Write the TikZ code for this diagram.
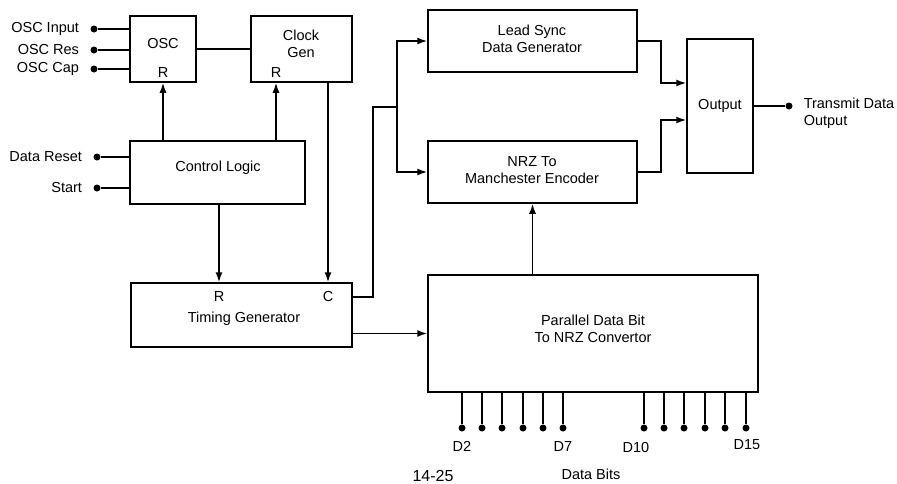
\documentclass[tikz,border=0pt]{standalone}
\usepackage{fontspec}
\setmainfont{Liberation Sans}
\usetikzlibrary{arrows.meta,positioning}

\begin{document}
\begin{tikzpicture}[>={Latex[length=10pt,width=7pt]},x=1pt,y=-1pt,line width=1.5pt,
  font=\fontsize{14.5}{17}\selectfont,
  blk/.style={draw,inner sep=0pt,align=center},
  txt/.style={inner sep=0pt,align=center},
  pindot/.style={circle,fill=black,inner sep=0pt,minimum size=7pt}]
  \useasboundingbox (0,0) rectangle (897,483);
  % Oscillator and clock
  \node[blk,minimum width=66pt,minimum height=66pt] (osc) at (163,49) {};
  \node[txt] (osct) at (163,44) {OSC};
  \node[txt] (oscr) at (163,73) {R};
  \node[blk,minimum width=101pt,minimum height=66pt] (clk) at (301.5,49) {};
  \node[txt] (clkt) at (301,44) {Clock\\Gen};
  \node[txt] (clkr) at (276,73) {R};
  % Control and timing
  \node[blk,minimum width=175pt,minimum height=63pt] (ctl) at (217.5,172.5) {};
  \node[txt] (ctlt) at (218,168) {Control Logic};
  \node[blk,minimum width=221pt,minimum height=64pt] (tim) at (241.5,315) {};
  \node[txt] (timr) at (219,297) {R};
  \node[txt] (timc) at (328,297) {C};
  \node[txt] (timt) at (244,319) {Timing Generator};
  % Encoder side
  \node[blk,minimum width=209pt,minimum height=62pt] (lead) at (532.5,41) {};
  \node[txt] (leadt) at (532,39) {Lead Sync\\Data Generator};
  \node[blk,minimum width=209pt,minimum height=62pt] (nrz) at (532.5,172) {};
  \node[txt] (nrzt) at (532,170.5) {NRZ To\\Manchester Encoder};
  \node[blk,minimum width=66pt,minimum height=134pt] (out) at (720,106) {Output};
  \node[blk,minimum width=330pt,minimum height=117pt] (par) at (593,333.5) {};
  \node[txt] (part) at (593,328.5) {Parallel Data Bit\\To NRZ Convertor};

  % Input pins
  \foreach \n/\y/\t in {oscin/29/OSC Input,oscres/50/OSC Res,osccap/69/OSC Cap}{
    \node[pindot] (\n) at (94,\y) {};
    \node[txt,left=10pt of \n] (\n-l) {\t};
    \draw (\n) -- (\n -| osc.west);
  }
  \foreach \n/\y/\t in {dreset/157/Data Reset,start/188/Start}{
    \node[pindot] (\n) at (97,\y) {};
    \node[txt,left=10pt of \n] (\n-l) {\t};
    \draw (\n) -- (\n -| ctl.west);
  }

  % Connections
  \draw (osc.east) -- (clk.west);
  \draw[->] (ctl.north -| oscr) -- (oscr |- osc.south);
  \draw[->] (ctl.north -| clkr) -- (clkr |- clk.south);
  \draw[->] (ctl.south -| timr) -- (timr |- tim.north);
  \draw[->] (clk.south -| timc) -- (timc |- tim.north);
  \coordinate (jog) at (373,107);
  \coordinate (fork) at (397,107);
  \draw (tim.east |- timc) -| (jog) -- (fork);
  \draw[->] (fork) |- (lead.west);
  \draw[->] (fork) |- (nrz.west);
  \draw[->] (tim.east |- par.west) -- (par.west);
  \draw[->] (par.north -| nrz.south) -- (nrz.south);
  \coordinate (lbend) at (661,83);
  \coordinate (nbend) at (661,120);
  \draw[->] (lead.east) -| (lbend) -- (lbend -| out.west);
  \draw[->] (nrz.east) -| (nbend) -- (nbend -| out.west);

  % Output pin
  \node[pindot] (txd) at (789,106) {};
  \draw (out.east) -- (txd);
  \node[txt,align=left,anchor=west] (txdl) at (803,113.5) {Transmit Data\\Output};

  % Data bit pins
  \foreach \i/\x in {2/462,3/482,4/502,5/523,6/543,7/563,10/644,11/664,12/684,13/705,14/725,15/746}{
    \node[pindot] (d\i) at (\x,428) {};
    \draw (d\i |- par.south) -- (d\i);
  }
  \node[txt] (d2l) at (462,446) {D2};
  \node[txt] (d7l) at (563,447) {D7};
  \node[txt] (d10l) at (636,447) {D10};
  \node[txt] (d15l) at (747,445) {D15};
  \node[txt] (bits) at (591,474) {Data Bits};
  \node[txt,anchor=base,font=\fontsize{16}{18}\selectfont] (fig) at (433,481) {14-25};
\end{tikzpicture}
\end{document}
